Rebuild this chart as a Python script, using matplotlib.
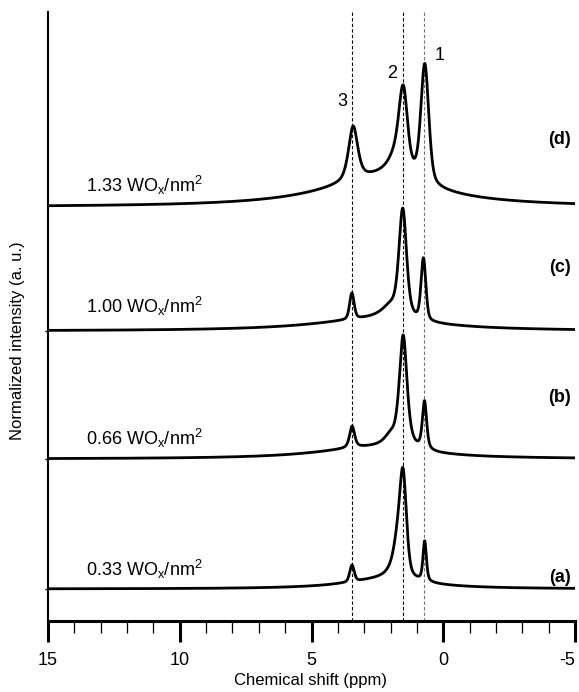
import numpy as np
import matplotlib
matplotlib.use("Agg")
import matplotlib.pyplot as plt
from matplotlib.ticker import MultipleLocator

plt.rcParams['font.family'] = ['Liberation Sans', 'DejaVu Sans']
plt.rcParams['mathtext.fontset'] = 'custom'
plt.rcParams['mathtext.rm'] = 'Liberation Sans'
plt.rcParams['mathtext.default'] = 'regular'
plt.rcParams['axes.unicode_minus'] = False

# ---------------- data ----------------
loadings = ['0.33', '0.66', '1.00', '1.33']
panel_tags = ['(a)', '(b)', '(c)', '(d)']
trace_offsets = [32, 162, 290, 414]          # vertical stacking (a.u.)
peak_marks = [3.45, 1.52, 0.73]               # ppm of dashed guide lines
peak_names = ['3', '2', '1']
x_ticks = [15, 10, 5, 0, -5]

# pseudo-Voigt components:
# centre (ppm), HWHM (ppm), Lorentzian fraction, height (a.u.)
a_center = [3.464, 1.763, 1.528, 0.704, 2.224]
a_hwhm   = [0.100, 0.219, 0.152, 0.076, 1.858]
a_eta    = [0.35, 1.00, 0.35, 0.52, 1.00]
a_height = [16.6, 33.2, 97.3, 40.0, 9.6]

b_center = [3.459, 2.012, 1.520, 0.711, 2.802]
b_hwhm   = [0.113, 0.304, 0.175, 0.096, 2.508]
b_eta    = [0.59, 1.00, 0.65, 0.56, 1.00]
b_height = [21.7, 9.9, 112.2, 48.1, 11.0]

c_center = [3.468, 1.982, 1.536, 0.752, 2.653]
c_hwhm   = [0.101, 0.454, 0.170, 0.106, 2.885]
c_eta    = [0.37, 1.00, 0.46, 0.35, 1.00]
c_height = [26.1, 13.2, 106.0, 61.6, 11.3]

d_center = [3.420, 1.639, 1.511, 0.700, 2.476]
d_hwhm   = [0.208, 0.407, 0.169, 0.176, 2.713]
d_eta    = [0.61, 1.00, 0.20, 0.38, 1.00]
d_height = [54.4, 41.1, 57.7, 117.3, 27.3]

spectra = [(a_center, a_hwhm, a_eta, a_height),
           (b_center, b_hwhm, b_eta, b_height),
           (c_center, c_hwhm, c_eta, c_height),
           (d_center, d_hwhm, d_eta, d_height)]

# ---------------- figure ----------------
W, H = 579, 692
fig = plt.figure(figsize=(W / 100, H / 100), dpi=100)
ax = fig.add_axes([48 / W, 71 / H, 527 / W, 609 / H])
ax.set_xlim(15, -5)
ax.set_ylim(0, 609)

ppm = np.linspace(15, -5, 5000)
for (cen, wid, eta, hei), off in zip(spectra, trace_offsets):
    y = np.full_like(ppm, float(off))
    for c, w, e, h in zip(cen, wid, eta, hei):
        d2 = ((ppm - c) / w) ** 2
        y += h * ((1 - e) * np.exp(-np.log(2) * d2) + e / (1 + d2))
    ax.plot(ppm, y, color='black', lw=2.0, solid_joinstyle='round', zorder=3)

guide_colors = ['black', 'black', '0.45']
for pm, gc in zip(peak_marks, guide_colors):
    ax.axvline(pm, color=gc, lw=0.8, ls=(0, (3, 2)), zorder=2)

# peak numbers
name_pos = [(3.84, 519), (1.94, 547), (0.12, 565)]
for nm, (px, py) in zip(peak_names, name_pos):
    ax.text(px, py, nm, fontsize=13, ha='center', va='center')

# loading labels
load_y = [45, 176, 308, 429]
for ld, yy in zip(loadings, load_y):
    ax.text(13.55, yy, ld + r' WO$_{x}$/nm$^{2}$', fontsize=13,
            ha='left', va='baseline')

# panel tags
tag_y = [44, 224, 353, 481]
for tg, yy in zip(panel_tags, tag_y):
    ax.text(-4.85, yy, tg, fontsize=13, fontweight='bold',
            ha='right', va='center')

# axes styling
for s in ['top', 'right']:
    ax.spines[s].set_visible(False)
ax.spines['bottom'].set_linewidth(2.2)
ax.spines['left'].set_linewidth(1.5)

ax.set_xticks(x_ticks)
ax.set_xticklabels([str(t) for t in x_ticks])
ax.xaxis.set_minor_locator(MultipleLocator(1))
ax.tick_params(axis='x', which='major', direction='out', length=15, width=2.2,
               labelsize=13, pad=7)
ax.tick_params(axis='x', which='minor', direction='out', length=8.5, width=0.9)
ax.get_xticklabels()[-1].set_horizontalalignment('right')
ax.set_yticks(trace_offsets[:3])
ax.set_yticklabels([])
ax.tick_params(axis='y', which='major', direction='out', length=2.5, width=1.0)

ax.set_xlabel('Chemical shift (ppm)', fontsize=12)
ax.xaxis.set_label_coords(0.498, -0.085)
ax.set_ylabel('Normalized intensity (a. u.)', fontsize=12)
ax.yaxis.set_label_coords(-0.043, 0.461)

fig.savefig('out.png', dpi=100)
